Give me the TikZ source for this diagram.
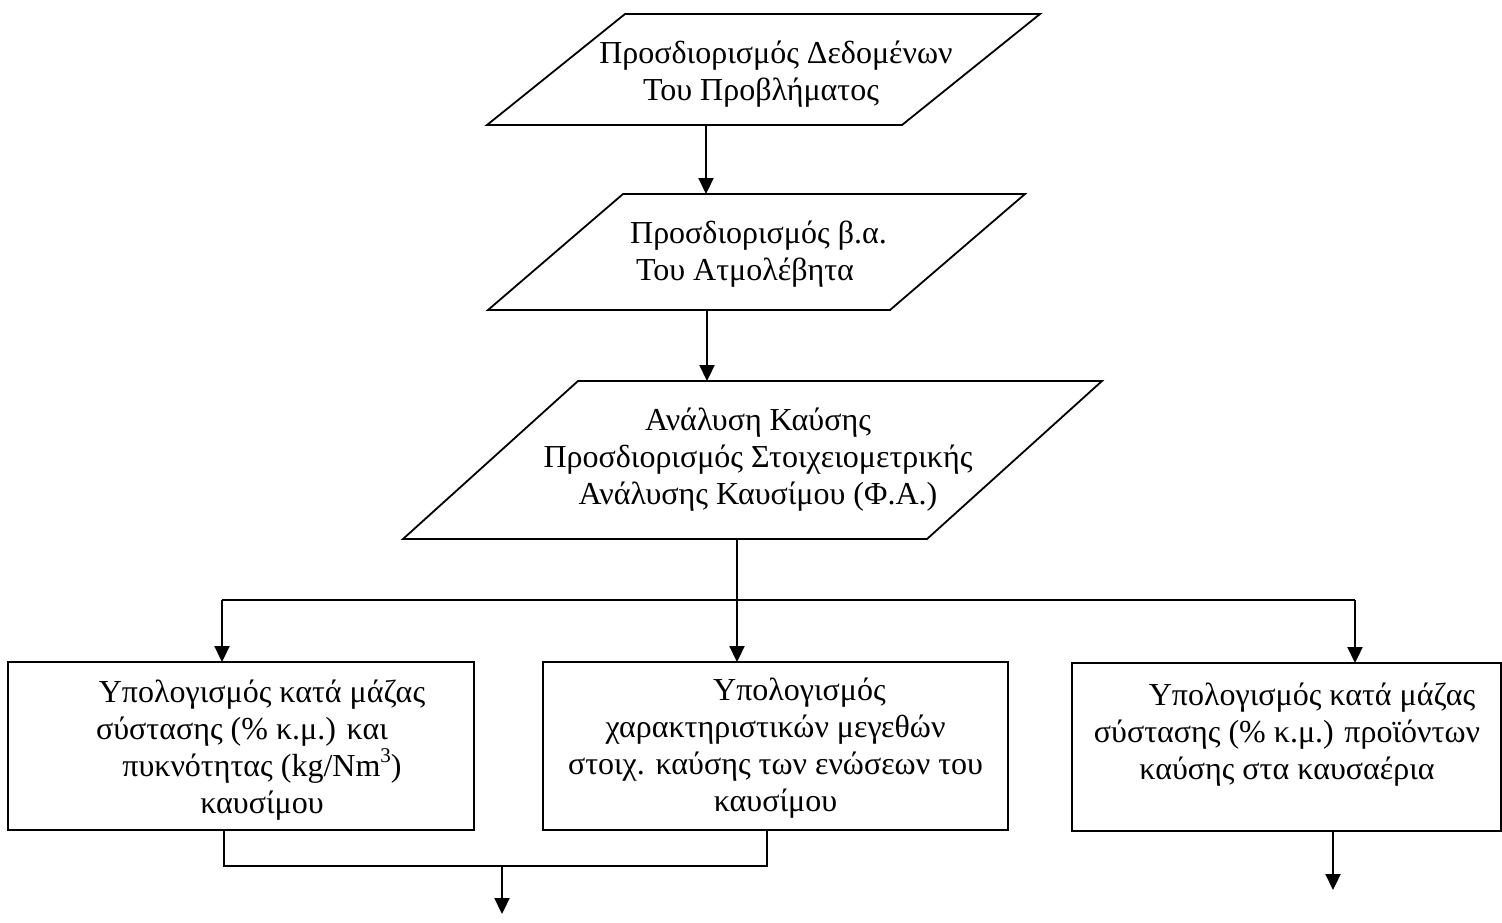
\documentclass[tikz,border=0pt]{standalone}
\usepackage{fontspec}
\setmainfont{Liberation Serif}
\usetikzlibrary{arrows.meta}
\newcommand\diafs{\fontsize{32}{37}\selectfont}
\newcommand\supthree{\raisebox{0.42em}{\fontsize{21}{21}\selectfont 3}}
\begin{document}
\begin{tikzpicture}[x=1pt,y=-1pt,
  shp/.style={draw=black, line width=1.8pt, line join=miter},
  bb/.style={inner sep=0pt, outer sep=0pt},
  boxn/.style={draw=black, line width=1.8pt, inner sep=0pt, outer sep=0pt},
  txt/.style={align=center, font=\diafs, inner sep=0pt},
  arr/.style={line width=2.2pt, -{Triangle[width=15pt,length=16pt]}},
  con/.style={line width=1.5pt}]
\useasboundingbox (0,0) rectangle (1502,922);

% parallelogram frames (invisible bounding nodes)
\node[bb, minimum width=553pt, minimum height=111pt] (p1) at (763.5,69.5) {};
\node[bb, minimum width=537pt, minimum height=116pt] (p2) at (756.5,252) {};
\node[bb, minimum width=699pt, minimum height=158pt] (p3) at (752.5,460) {};
\draw[shp] ([xshift=138pt]p1.north west) -- (p1.north east) -- ([xshift=-138pt]p1.south east) -- (p1.south west) -- cycle;
\draw[shp] ([xshift=135pt]p2.north west) -- (p2.north east) -- ([xshift=-135pt]p2.south east) -- (p2.south west) -- cycle;
\draw[shp] ([xshift=175pt]p3.north west) -- (p3.north east) -- ([xshift=-175pt]p3.south east) -- (p3.south west) -- cycle;

\node[txt] (t1) at (776,74) {Προσδιορισμός Δεδομένων\\Του Προβλήματος\hspace*{30pt}\mbox{}};
\node[txt] (t2) at (758.5,254) {Προσδιορισμός β.α.\\Του Ατμολέβητα\hspace*{27pt}\mbox{}};
\node[txt] (t3) at (758,460) {Ανάλυση Καύσης\\Προσδιορισμός Στοιχειομετρικής\\Ανάλυσης Καυσίμου (Φ.Α.)};

% boxes
\node[boxn, minimum width=466pt, minimum height=168pt] (b1) at (241,746) {};
\node[boxn, minimum width=465pt, minimum height=168pt] (b2) at (775.5,746) {};
\node[boxn, minimum width=429pt, minimum height=168pt] (b3) at (1286.5,747) {};

\node[txt] (t4) at (262,750) {Υπολογισμός κατά μάζας\\σύστασης (\% κ.μ.) και\hspace*{40pt}\mbox{}\\πυκνότητας (kg/Nm\supthree)\\καυσίμου};
\node[txt] (t5) at (775.5,748) {\hspace*{48pt}Υπολογισμός\\χαρακτηριστικών μεγεθών\\στοιχ. καύσης των ενώσεων του\\καυσίμου};
\node[txt] (t6) at (1287,735) {\hspace*{50pt}Υπολογισμός κατά μάζας\\σύστασης (\% κ.μ.) προϊόντων\\καύσης στα καυσαέρια};

% connectors
\coordinate (c1) at (706,0);
\coordinate (c2) at (707,0);
\draw[arr] (p1.south -| c1) -- (p2.north -| c1);
\draw[arr] (p2.south -| c2) -- (p3.north -| c2);

\coordinate (hub) at (737,600);
\coordinate (xa) at (222,600);
\coordinate (xc) at (1355,600);
\draw[con] (p3.south -| hub) -- (hub);
\draw[con] (xa) -- (xc);
\draw[arr] (xa) -- (b1.north -| xa);
\draw[arr] (hub) -- (b2.north -| hub);
\draw[arr] (xc) -- (b3.north -| xc);

\coordinate (j1) at (224,866);
\coordinate (j2) at (767,866);
\draw[con] (b1.south -| j1) -- (j1) -- (j2) -- (b2.south -| j2);
\coordinate (m) at (502,866);
\coordinate (mend) at (502,914);
\draw[arr] (m) -- (mend);
\coordinate (e3) at (1333,890);
\draw[arr] (b3.south -| e3) -- (e3);
\end{tikzpicture}
\end{document}
